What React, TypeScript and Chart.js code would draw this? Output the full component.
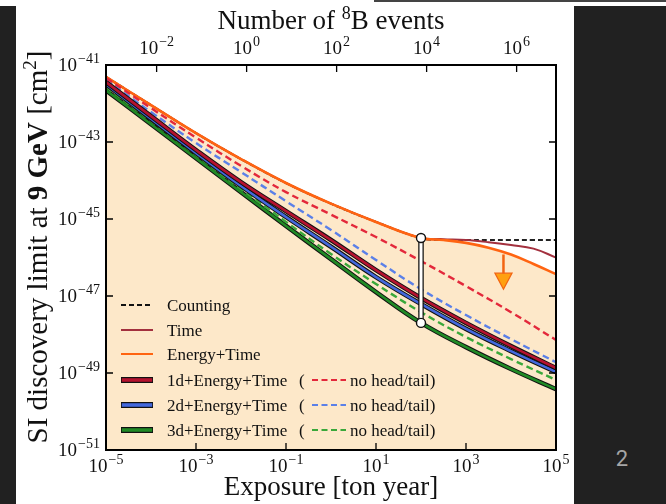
import React, { useEffect, useRef } from "react";
import { Chart, registerables } from "chart.js";
Chart.register(...registerables);

// ---- data (exposure in ton year, SI cross-section limit in cm^2) ----
const exposure = [1e-5, 1e-4, 1e-3, 1e-2, 1e-1, 1, 10, 100, 1e3, 1e4, 1e5];
const exposureFine = [1e-5, 1e-4, 1e-3, 1e-2, 1e-1, 1, 10, 100, 316, 1e3, 3162, 1e4, 31623, 1e5];

const countingLimit = [4.9e-42, 9.1e-43, 1.7e-43, 3.6e-44, 8.6e-45, 2.5e-45, 8.4e-46, 3.2e-46, 2.85e-46, 2.85e-46, 2.85e-46, 2.85e-46, 2.85e-46, 2.85e-46];
const timeLimit = [4.9e-42, 9.1e-43, 1.7e-43, 3.6e-44, 8.6e-45, 2.5e-45, 8.4e-46, 3.2e-46, 3.0e-46, 2.85e-46, 2.5e-46, 2.1e-46, 1.7e-46, 1.0e-46];
const energyTimeLimit = [4.9e-42, 9.1e-43, 1.7e-43, 3.6e-44, 8.6e-45, 2.5e-45, 8.4e-46, 3.2e-46, 2.85e-46, 2.4e-46, 1.8e-46, 1.2e-46, 6.8e-47, 3.7e-47];

const d1Limit = [3.6e-42, 4.7e-43, 6.2e-44, 9.1e-45, 1.6e-45, 2.85e-46, 4.7e-47, 8.9e-48, 2.0e-48, 5.0e-49, 1.35e-49];
const d2Limit = [3.2e-42, 4.0e-43, 5.2e-44, 7.2e-45, 1.13e-45, 1.9e-46, 3.1e-47, 6.2e-48, 1.4e-48, 3.7e-49, 1.06e-49];
const d3Limit = [2.2e-42, 2.9e-43, 3.8e-44, 5.0e-45, 6.6e-46, 9.1e-47, 1.27e-47, 2.0e-48, 4.7e-49, 1.27e-49, 3.8e-50];
const d1NoHT = [4.6e-42, 7.6e-43, 1.3e-43, 2.4e-44, 5.0e-45, 1.3e-45, 3.4e-46, 8.1e-47, 1.8e-47, 3.8e-48, 7.2e-49];
const d2NoHT = [4.1e-42, 6.0e-43, 9.4e-44, 1.66e-44, 2.9e-45, 5.2e-46, 8.6e-47, 1.5e-47, 3.2e-48, 7.6e-49, 1.9e-49];
const d3NoHT = [2.7e-42, 3.5e-43, 4.6e-44, 6.0e-45, 8.4e-46, 1.23e-46, 2.05e-47, 3.8e-48, 8.6e-49, 2.3e-49, 6.6e-50];

const benchmarkExposure = 100;
const benchmarkSigma = [3.2e-46, 2.0e-48];
const arrowExposure = 6800;
const arrowSigma = [1.2e-46, 1.5e-47];

// axes
const xMin = 1e-5, xMax = 1e5;
const yMin = 1e-51, yMax = 1e-41;
const eventsMin = 7.5e-4, eventsMax = 7.5e6;
const xTickExps = [-5, -3, -1, 1, 3, 5];
const yTickExps = [-41, -43, -45, -47, -49, -51];
const eventTickExps = [-2, 0, 2, 4, 6];

const legendLabels = ["Counting", "Time", "Energy+Time", "1d+Energy+Time", "2d+Energy+Time", "3d+Energy+Time"];
const noHeadTailLabel = "no head/tail)";
const xTitle = "Exposure [ton year]";
const topTitleParts = ["Number of ", "8", "B events"];
const yTitleParts = ["SI discovery limit at ", "9 GeV", " [cm", "2", "]"];
const slideNumber = "2";

// styles
const SERIF = "'Liberation Serif', 'DejaVu Serif', serif";
const C_ORANGE = "#ff6411";
const C_TIME = "#a3303e";
const C_RED = "#b5122f";
const C_RED_D = "#e3283b";
const C_BLUE = "#4368dc";
const C_BLUE_D = "#5b80e8";
const C_GREEN = "#208a25";
const C_GREEN_D = "#3aa83a";
const BEIGE = "#fde8c9";

const pts = (xs: number[], ys: number[]) => xs.map((x, i) => ({ x, y: ys[i] }));

function drawPow(ctx: CanvasRenderingContext2D, e: number, x: number, y: number, align: "center" | "right") {
  const base = "10";
  const sup = (e < 0 ? "\u2212" : "") + Math.abs(e);
  ctx.font = `19px ${SERIF}`;
  const wb = ctx.measureText(base).width;
  ctx.font = `14px ${SERIF}`;
  const ws = ctx.measureText(sup).width;
  const total = wb + ws + 1;
  const sx = align === "right" ? x - total : x - total / 2;
  ctx.textAlign = "left";
  ctx.textBaseline = "alphabetic";
  ctx.font = `19px ${SERIF}`;
  ctx.fillText(base, sx, y);
  ctx.font = `14px ${SERIF}`;
  ctx.fillText(sup, sx + wb + 1, y - 8);
}

const decor = {
  id: "decor",
  afterDatasetsDraw(chart: any) {
    const ctx: CanvasRenderingContext2D = chart.ctx;
    const xs = chart.scales.x, ys = chart.scales.y;
    const ax = xs.getPixelForValue(arrowExposure);
    const a0 = ys.getPixelForValue(arrowSigma[0]);
    const a1 = ys.getPixelForValue(arrowSigma[1]);
    ctx.save();
    ctx.strokeStyle = "#f26412";
    ctx.lineWidth = 2.5;
    ctx.beginPath();
    ctx.moveTo(ax, a0);
    ctx.lineTo(ax, a1 - 15);
    ctx.stroke();
    ctx.beginPath();
    ctx.moveTo(ax - 8.5, a1 - 16);
    ctx.lineTo(ax + 8.5, a1 - 16);
    ctx.lineTo(ax, a1);
    ctx.closePath();
    ctx.fillStyle = "#ffa010";
    ctx.fill();
    ctx.lineWidth = 1.3;
    ctx.stroke();
    ctx.restore();
  },
  afterDraw(chart: any) {
    const ctx: CanvasRenderingContext2D = chart.ctx;
    const { left, right, top, bottom } = chart.chartArea;
    const xs = chart.scales.x, ys = chart.scales.y, x2 = chart.scales.x2;
    ctx.save();
    ctx.strokeStyle = "#000";
    ctx.lineWidth = 2;
    ctx.strokeRect(left, top, right - left, bottom - top);
    ctx.lineWidth = 1.3;
    ctx.beginPath();
    yTickExps.forEach((e) => {
      const y = ys.getPixelForValue(Math.pow(10, e));
      if (y > top + 2 && y < bottom - 2) {
        ctx.moveTo(left, y); ctx.lineTo(left + 7, y);
        ctx.moveTo(right, y); ctx.lineTo(right - 7, y);
      }
    });
    xTickExps.forEach((e) => {
      const x = xs.getPixelForValue(Math.pow(10, e));
      if (x > left + 2 && x < right - 2) { ctx.moveTo(x, bottom); ctx.lineTo(x, bottom - 7); }
    });
    eventTickExps.forEach((e) => {
      const x = x2.getPixelForValue(Math.pow(10, e));
      ctx.moveTo(x, top); ctx.lineTo(x, top + 7);
    });
    ctx.stroke();
    ctx.fillStyle = "#111";
    yTickExps.forEach((e) => drawPow(ctx, e, left - 6, ys.getPixelForValue(Math.pow(10, e)) + 6, "right"));
    xTickExps.forEach((e) => drawPow(ctx, e, xs.getPixelForValue(Math.pow(10, e)), bottom + 22, "center"));
    eventTickExps.forEach((e) => drawPow(ctx, e, x2.getPixelForValue(Math.pow(10, e)), top - 11, "center"));

    const cx = (left + right) / 2;
    ctx.textBaseline = "alphabetic";
    ctx.font = `27px ${SERIF}`;
    ctx.textAlign = "center";
    ctx.fillText(xTitle, cx, 495);
    ctx.textAlign = "left";
    ctx.font = `27px ${SERIF}`;
    const w0 = ctx.measureText(topTitleParts[0]).width;
    const w2 = ctx.measureText(topTitleParts[2]).width;
    ctx.font = `18px ${SERIF}`;
    const w1 = ctx.measureText(topTitleParts[1]).width;
    let tx = cx - (w0 + w1 + w2) / 2;
    const ty = 29;
    ctx.font = `27px ${SERIF}`;
    ctx.fillText(topTitleParts[0], tx, ty); tx += w0;
    ctx.font = `18px ${SERIF}`;
    ctx.fillText(topTitleParts[1], tx, ty - 10); tx += w1;
    ctx.font = `27px ${SERIF}`;
    ctx.fillText(topTitleParts[2], tx, ty);

    const fonts = [`29px ${SERIF}`, `bold 29px ${SERIF}`, `29px ${SERIF}`, `19px ${SERIF}`, `29px ${SERIF}`];
    const rises = [0, 0, 0, 11, 0];
    const widths = yTitleParts.map((p, i) => { ctx.font = fonts[i]; return ctx.measureText(p).width; });
    const totalW = widths.reduce((a, b) => a + b, 0);
    ctx.save();
    ctx.translate(47, 247);
    ctx.rotate(-Math.PI / 2);
    let px = -totalW / 2;
    yTitleParts.forEach((p, i) => {
      ctx.font = fonts[i];
      ctx.fillText(p, px, -rises[i]);
      px += widths[i];
    });
    ctx.restore();

    const rowsY = [305, 330, 354, 380, 405, 430];
    const sx0 = 121, sx1 = 153, textX = 167;
    const solidColors = [C_RED, C_BLUE, C_GREEN];
    const dashColors = [C_RED_D, C_BLUE_D, C_GREEN_D];
    rowsY.forEach((y, i) => {
      ctx.save();
      ctx.lineCap = "butt";
      if (i === 0) {
        ctx.strokeStyle = "#111"; ctx.lineWidth = 2; ctx.setLineDash([5, 3]);
        ctx.beginPath(); ctx.moveTo(sx0, y); ctx.lineTo(sx1, y); ctx.stroke();
      } else if (i === 1 || i === 2) {
        ctx.strokeStyle = i === 1 ? C_TIME : C_ORANGE; ctx.lineWidth = 2;
        ctx.beginPath(); ctx.moveTo(sx0, y); ctx.lineTo(sx1, y); ctx.stroke();
      } else {
        ctx.strokeStyle = "#111"; ctx.lineWidth = 6;
        ctx.beginPath(); ctx.moveTo(sx0, y); ctx.lineTo(sx1, y); ctx.stroke();
        ctx.strokeStyle = solidColors[i - 3]; ctx.lineWidth = 3.6;
        ctx.beginPath(); ctx.moveTo(sx0 + 0.8, y); ctx.lineTo(sx1 - 0.8, y); ctx.stroke();
        ctx.strokeStyle = dashColors[i - 3]; ctx.lineWidth = 2.2; ctx.setLineDash([6, 3.5]);
        ctx.beginPath(); ctx.moveTo(312, y); ctx.lineTo(346, y); ctx.stroke();
      }
      ctx.restore();
      ctx.fillStyle = "#111";
      ctx.font = `17px ${SERIF}`;
      ctx.textAlign = "left";
      ctx.fillText(legendLabels[i], textX, y + 6);
      if (i >= 3) {
        ctx.fillText("(", 299, y + 6);
        ctx.fillText(noHeadTailLabel, 350, y + 6);
      }
    });
    ctx.restore();
  },
};

export default function App() {
  const ref = useRef<HTMLCanvasElement>(null);
  useEffect(() => {
    const canvas = ref.current!;
    const outlined = (xs: number[], ys: number[], color: string, order: number) => [
      { data: pts(xs, ys), borderColor: "#111", borderWidth: 4.6, order: order + 0.5 },
      { data: pts(xs, ys), borderColor: color, borderWidth: 2.6, order },
    ];
    const dashed = (xs: number[], ys: number[], color: string, order: number) => ({
      data: pts(xs, ys), borderColor: color, borderWidth: 2.4, borderDash: [7, 4], order,
    });
    const datasets: any[] = [
      { data: pts(exposureFine, countingLimit), borderColor: "#222", borderWidth: 2, borderDash: [5, 3], order: 20 },
      { data: pts(exposureFine, timeLimit), borderColor: C_TIME, borderWidth: 2, order: 19 },
      { data: pts(exposureFine, energyTimeLimit), borderColor: C_ORANGE, borderWidth: 2.6, order: 18, fill: "start", backgroundColor: BEIGE },
      ...outlined(exposure, d3Limit, C_GREEN, 16),
      dashed(exposure, d3NoHT, C_GREEN_D, 15),
      ...outlined(exposure, d2Limit, C_BLUE, 13),
      dashed(exposure, d2NoHT, C_BLUE_D, 12),
      ...outlined(exposure, d1Limit, C_RED, 10),
      dashed(exposure, d1NoHT, C_RED_D, 9),
      {
        data: pts([benchmarkExposure, benchmarkExposure], benchmarkSigma), borderColor: "#111", borderWidth: 5.5,
        tension: 0, order: 2,
      },
      {
        data: pts([benchmarkExposure, benchmarkExposure], benchmarkSigma), borderColor: "#fff", borderWidth: 3,
        tension: 0, pointRadius: 4.5, pointBackgroundColor: "#fff",
        pointBorderColor: "#111", pointBorderWidth: 1.4, order: 1,
      },
    ];
    const chart = new Chart(canvas, {
      type: "line",
      data: { datasets },
      options: {
        animation: false,
        responsive: false,
        devicePixelRatio: 1,
        events: [],
        layout: { padding: { left: 106, top: 65, right: 110, bottom: 54 } },
        elements: {
          point: { radius: 0 },
          line: { cubicInterpolationMode: "default", tension: 0.4, fill: false },
        },
        scales: {
          x: { type: "logarithmic", min: xMin, max: xMax, display: false },
          y: { type: "logarithmic", min: yMin, max: yMax, display: false },
          x2: { type: "logarithmic", axis: "x", position: "top", min: eventsMin, max: eventsMax, display: false },
        },
        plugins: {
          legend: { display: false },
          tooltip: { enabled: false },
          filler: { drawTime: "beforeDatasetsDraw" },
        },
      } as any,
      plugins: [decor],
    });
    return () => chart.destroy();
  }, []);

  return (
    <div style={{ position: "fixed", left: 0, top: 0, width: 666, height: 504, background: "#fff", overflow: "hidden" }}>
      <div style={{ position: "absolute", left: 0, top: 6, width: 16, height: 498, background: "#212121" }} />
      <div style={{ position: "absolute", left: 574, top: 6, width: 92, height: 498, background: "#212121" }} />
      <div style={{ position: "absolute", left: 374, top: 0, width: 292, height: 2, background: "#444" }} />
      <div style={{ position: "absolute", left: 606, top: 446, width: 32, textAlign: "center", font: "22px Roboto, 'Noto Sans', sans-serif", color: "#a6a6a6" }}>{slideNumber}</div>
      <canvas ref={ref} width={666} height={504} style={{ position: "absolute", left: 0, top: 0 }} />
    </div>
  );
}
